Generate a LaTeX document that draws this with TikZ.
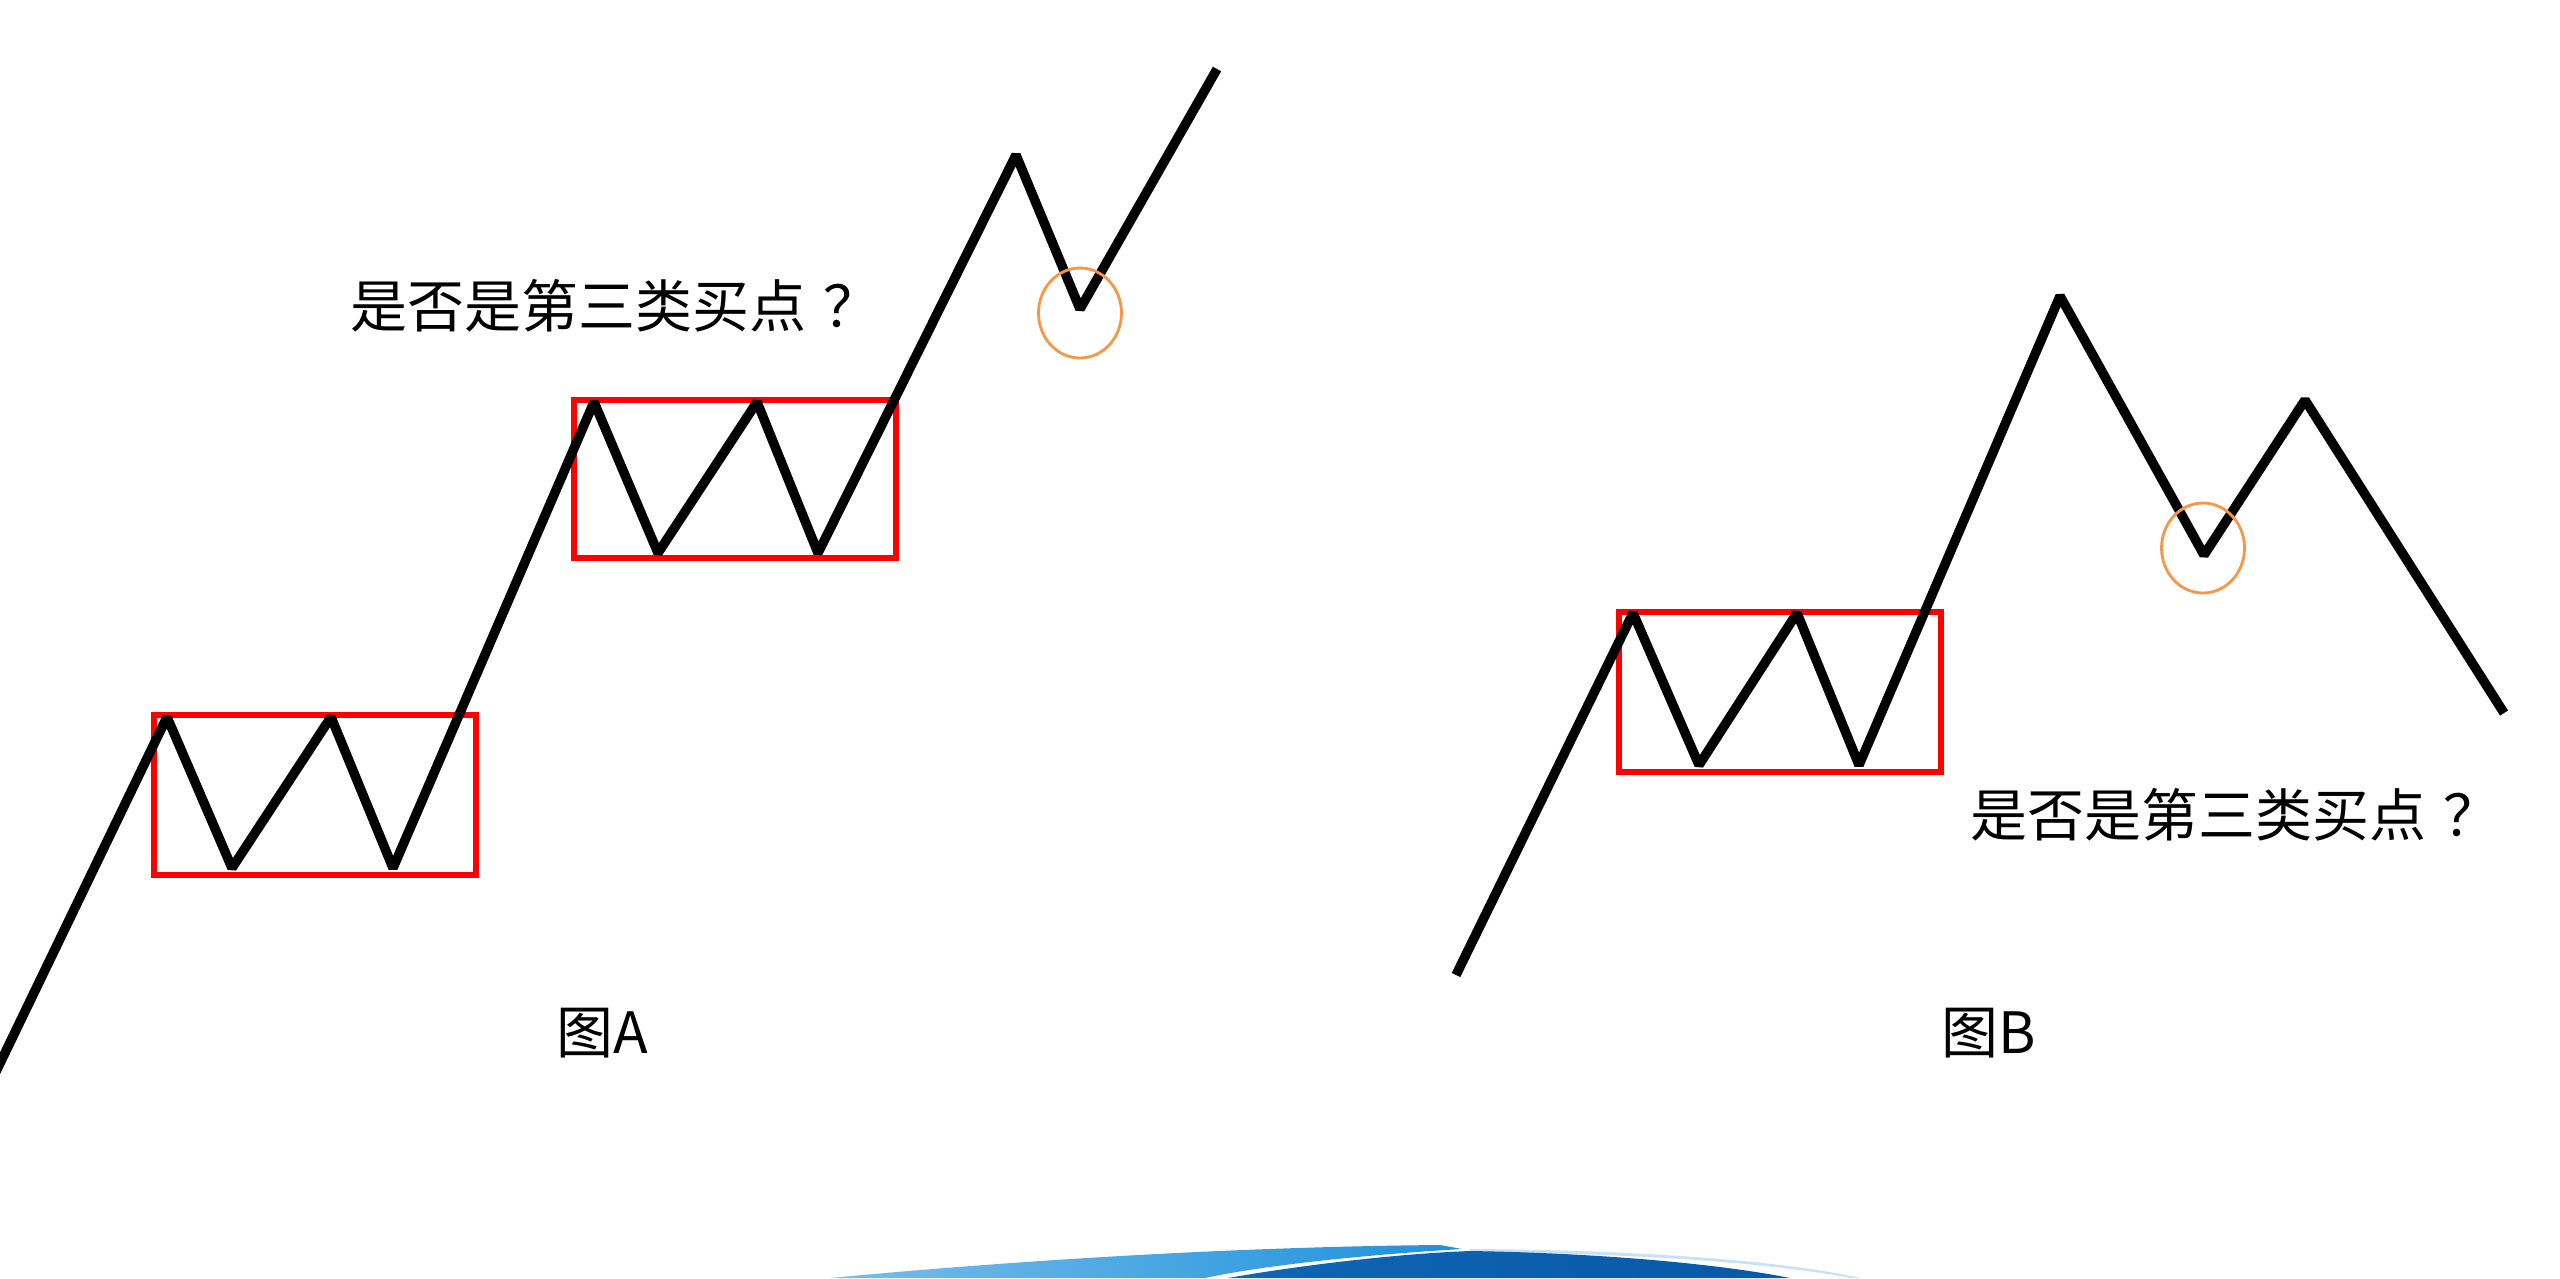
\documentclass[tikz,border=0pt]{standalone}
\usepackage{fontspec}
\newfontfamily\cjk{Noto Sans CJK SC}
\definecolor{zred}{RGB}{255,0,0}
\definecolor{zorange}{RGB}{247,150,70}
\definecolor{swlight}{RGB}{30,145,220}
\definecolor{swdark}{RGB}{8,88,168}
\definecolor{swfaint}{RGB}{200,225,245}
\begin{document}
\begin{tikzpicture}[x=0.01cm,y=-0.01cm,
  trend/.style={line width=0.095cm, line join=bevel, draw=black},
  zbox/.style={draw=zred, line width=0.06cm, inner sep=0pt, anchor=north west},
  buycircle/.style={draw=zorange, line width=0.028cm},
  lbl/.style={font=\cjk\fontsize{16.2pt}{19pt}\selectfont, inner sep=0pt, text=black}]
\useasboundingbox (0,0) rectangle (2560,1278);
\clip (0,0) rectangle (2560,1278);
\fill[white] (0,0) rectangle (2560,1278);

% ---------- Figure A ----------
\coordinate (a0) at (-10,1084);
\coordinate (a1) at (167,717);
\coordinate (a2) at (232,868);
\coordinate (a3) at (331,717);
\coordinate (a4) at (393,868);
\coordinate (a5) at (594,402);
\coordinate (a6) at (658,553);
\coordinate (a7) at (757,402);
\coordinate (a8) at (818,553);
\coordinate (a9) at (1016,155);
\coordinate (a10) at (1080,309);
\coordinate (a11) at (1217,69);

\node[zbox, minimum width=3.22cm, minimum height=1.6cm] (boxA1) at (151,712) {};
\node[zbox, minimum width=3.22cm, minimum height=1.58cm] (boxA2) at (571,397) {};

\draw[trend] (a0) -- (a1) -- (a2) -- (a3) -- (a4) -- (a5) -- (a6) -- (a7) -- (a8) -- (a9) -- (a10) -- (a11);

\coordinate (circA) at (1080,313);
\draw[buycircle] (circA) ellipse [x radius=41.5, y radius=45];

\node[lbl, anchor=west] (qA) at (350,306) {是否是第三类买点\hspace{0.3em}？};
\node[lbl] (capA) at (602,1033) {图A};

% ---------- Figure B ----------
\coordinate (b0) at (1456,975);
\coordinate (b1) at (1633,613);
\coordinate (b2) at (1699,765);
\coordinate (b3) at (1797,613);
\coordinate (b4) at (1859,765);
\coordinate (b5) at (2060,296);
\coordinate (b6) at (2204,555);
\coordinate (b7) at (2305,400);
\coordinate (b8) at (2504,713);

\node[zbox, minimum width=3.22cm, minimum height=1.6cm] (boxB) at (1616,609) {};

\draw[trend] (b0) -- (b1) -- (b2) -- (b3) -- (b4) -- (b5) -- (b6) -- (b7) -- (b8);

\coordinate (circB) at (2203,548);
\draw[buycircle] (circB) ellipse [x radius=41.5, y radius=45];

\node[lbl, anchor=west] (qB) at (1970,815) {是否是第三类买点\hspace{0.3em}？};
\node[lbl] (capB) at (1989,1033) {图B};

% ---------- blue swoosh at the bottom ----------
\fill[swfaint] (1470,1249) .. controls (1650,1250) and (1790,1262) .. (1860,1278)
  -- (1850,1278) .. controls (1780,1264) and (1640,1253) .. (1470,1252) -- cycle;
\shade[left color=swlight!60!white, right color=swlight]
  (830,1278) .. controls (1000,1262) and (1220,1247) .. (1440,1245)
  -- (1462,1249) .. controls (1360,1255) and (1260,1266) .. (1205,1278) -- cycle;
\shade[left color=swdark!75!swlight, right color=swdark]
  (1228,1278) .. controls (1290,1267) and (1390,1254) .. (1470,1251)
  .. controls (1600,1253) and (1720,1264) .. (1790,1278) -- cycle;
\end{tikzpicture}
\end{document}
